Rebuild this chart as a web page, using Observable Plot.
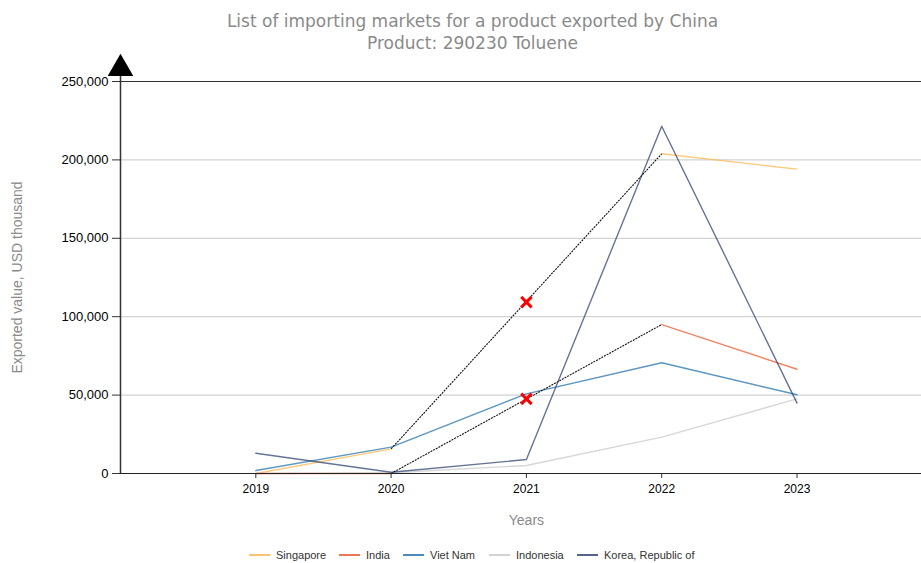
<!DOCTYPE html>
<html>
<head>
<meta charset="utf-8">
<script src="https://cdn.jsdelivr.net/npm/d3@7"></script>
<script src="https://cdn.jsdelivr.net/npm/@observablehq/plot@0.6"></script>
<style>
  html, body { margin: 0; padding: 0; background: #fff; }
  #wrap { width: 921px; height: 563px; position: relative; overflow: hidden; font-family: "Liberation Sans", Arial, sans-serif; }
  #title { position: absolute; top: 10px; left: 0; width: 945px; text-align: center; color: #8a8a8a; font-family: "DejaVu Sans", sans-serif; font-size: 17px; line-height: 22px; }
  #chart { position: absolute; top: 52px; left: 0; }
  #legend { position: absolute; top: 549px; left: 0; width: 921px; font-size: 11px; color: #333; }
  .item { position: absolute; top: 0; white-space: nowrap; }
  .sw { display: inline-block; width: 21px; height: 2px; vertical-align: middle; margin-right: 6px; position: relative; top: -1px; opacity: 0.8; }
</style>
</head>
<body>
<div id="wrap">
  <div id="title">List of importing markets for a product exported by China<br>Product: 290230 Toluene</div>
  <div id="chart"></div>
  <div id="legend"></div>
</div>
<script>
const years = [2019, 2020, 2021, 2022, 2023];
const seriesNames = ["Singapore", "India", "Viet Nam", "Indonesia", "Korea, Republic of"];
const seriesColors = ["#fdb54a", "#e8542a", "#1f6fa8", "#c8c8c8", "#2a3f6b"];
const singapore = [0, 15700, null, 203900, 194100];
const india = [0, 0, null, 95000, 66500];
const vietNam = [1900, 16800, 50800, 70600, 50200];
const indonesia = [0, 500, 5100, 23200, 47600];
const korea = [12900, 800, 8900, 221500, 44900];
// missing 2021 values marked on the chart with a red cross
const missingYears = [2021, 2021];
const missingValues = [109300, 47600];
const yTicks = [0, 50000, 100000, 150000, 200000, 250000];
const legendX = [249, 339, 403, 489, 577];

const allSeries = [singapore, india, vietNam, indonesia, korea];
const rows = [];
allSeries.forEach((vals, i) => {
  years.forEach((yr, j) => rows.push({name: seriesNames[i], year: yr, value: vals[j]}));
});

// dashed bridge segments across gaps (between the defined neighbours)
const bridges = [];
allSeries.forEach((vals, i) => {
  vals.forEach((v, j) => {
    if (v === null && j > 0 && j < vals.length - 1) {
      bridges.push({name: seriesNames[i], x1: years[j-1], y1: vals[j-1], x2: years[j+1], y2: vals[j+1]});
    }
  });
});
const crosses = missingYears.map((yr, i) => ({year: yr, value: missingValues[i]}));

const colorOf = Object.fromEntries(seriesNames.map((n, i) => [n, seriesColors[i]]));

const chart = Plot.plot({
  width: 921,
  height: 483,
  marginLeft: 120,
  marginRight: 0,
  marginTop: 29,
  marginBottom: 62,
  style: {fontFamily: '"Liberation Sans", Arial, sans-serif', fontSize: "12px", color: "#000", overflow: "visible"},
  x: {type: "linear", domain: [2018, 2023.92], axis: null},
  y: {type: "linear", domain: [0, 250000], axis: null},
  marks: [
    Plot.ruleY(yTicks.filter(t => t > 0 && t < 250000), {stroke: "#c8c8c8", strokeWidth: 1}),
    Plot.ruleY([250000], {stroke: "#333", strokeWidth: 1}),
    Plot.line(rows, {x: "year", y: "value", z: "name", stroke: d => colorOf[d.name], strokeWidth: 1.4, strokeOpacity: 0.72}),
    Plot.link(bridges, {x1: "x1", y1: "y1", x2: "x2", y2: "y2", stroke: "#111", strokeWidth: 1.1, strokeDasharray: "2,1"}),
    Plot.dot(crosses, {x: "year", y: "value", symbol: "times", r: 4.8, stroke: "#f00", strokeWidth: 3}),
    // axes
    Plot.ruleY([0], {stroke: "#222", strokeWidth: 1.2}),
    Plot.ruleX([2018], {y1: 0, y2: 258000, stroke: "#333", strokeWidth: 1.5, insetBottom: -5}),
    Plot.dot([{x: 2018, y: 250000}], {x: "x", y: "y", symbol: "triangle", r: 9.5, fill: "#000", stroke: "none", dy: -13}),
    Plot.axisY({ticks: yTicks, tickSize: 8, tickFormat: d3.format(","), anchor: "left", label: null, stroke: "#333", fill: "#000", tickPadding: 4, fontSize: 13}),
    Plot.axisX({ticks: years, tickSize: 5, tickFormat: d => String(d), anchor: "bottom", label: null, stroke: "#333", fill: "#000", tickPadding: 6}),
    Plot.text(["Years"], {frameAnchor: "bottom", dx: 0, dy: 51, x: () => 2021, fill: "#8a8a8a", fontSize: 14, text: d => d, textAnchor: "middle"}),
    Plot.text(["Exported value, USD thousand"], {frameAnchor: "left", dx: -103, rotate: -90, fill: "#8a8a8a", fontSize: 14, text: d => d, textAnchor: "middle"})
  ]
});
document.getElementById("chart").appendChild(chart);

const legend = document.getElementById("legend");
seriesNames.forEach((n, i) => {
  const el = document.createElement("div");
  el.className = "item";
  el.style.left = legendX[i] + "px";
  el.innerHTML = `<span class="sw" style="background:${seriesColors[i]}"></span>${n}`;
  legend.appendChild(el);
});
</script>
</body>
</html>
